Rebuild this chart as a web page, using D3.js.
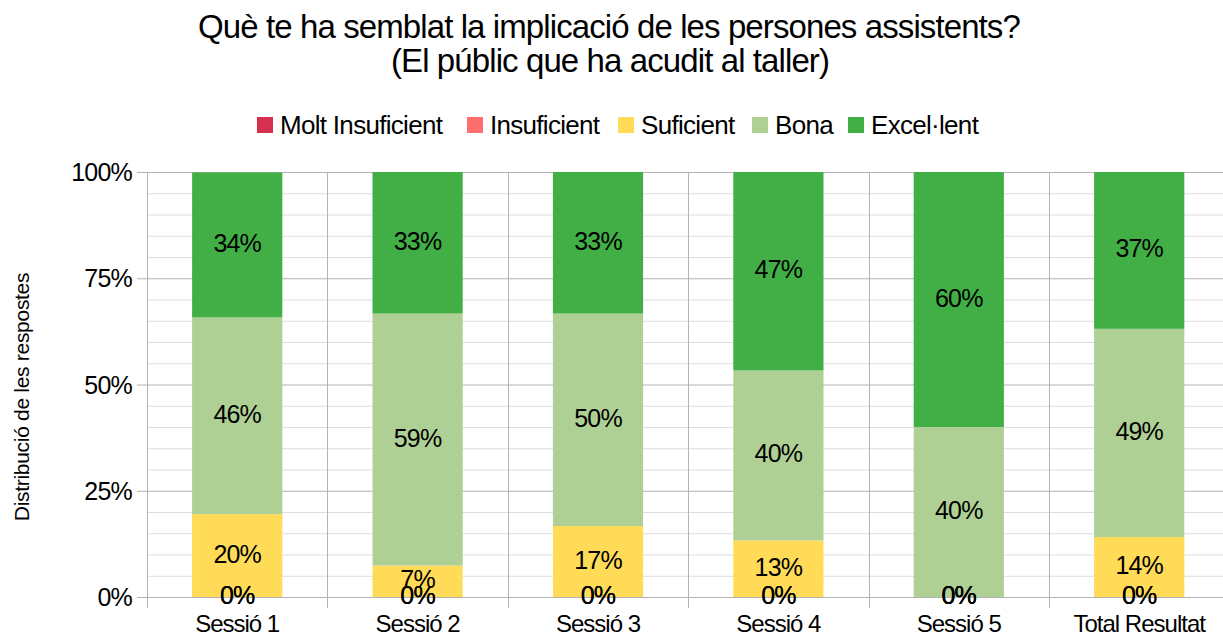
<!DOCTYPE html>
<html lang="ca">
<head>
<meta charset="utf-8">
<title>Implicació de les persones assistents</title>
<script src="https://d3js.org/d3.v7.min.js"></script>
<style>
  body { margin: 0; background: #fff; }
  svg text { font-family: "Liberation Sans", Arial, sans-serif; fill: #000; }
</style>
</head>
<body>
<div id="chart"></div>
<script>
// categories and series (percent of answers)
var sessions = ["Sessió 1", "Sessió 2", "Sessió 3", "Sessió 4", "Sessió 5", "Total Resultat"];
var levels = ["Molt Insuficient", "Insuficient", "Suficient", "Bona", "Excel·lent"];
var moltInsuficient = [0, 0, 0, 0, 0, 0];
var insuficient = [0, 0, 0, 0, 0, 0];
var suficient = [19.5, 7.4, 16.7, 13.3, 0, 14.1];
var bona = [46.3, 59.3, 50.0, 40.0, 40.0, 49.0];
var excellent = [34.1, 33.3, 33.3, 46.7, 60.0, 36.9];
var yTicks = [0, 25, 50, 75, 100];

var colors = ["#d6304f", "#ff6e6e", "#ffdb58", "#afd095", "#41ae46"];

var W = 1223, H = 637;
var margin = { left: 147, top: 172 };
var plotBottom = 597;
var band = 180.4;

var svg = d3.select("#chart").append("svg")
  .attr("width", W).attr("height", H);

// build rows for the stack
var series = [moltInsuficient, insuficient, suficient, bona, excellent];
var rows = sessions.map(function(s, i) {
  var r = { cat: s };
  levels.forEach(function(l, j) { r[l] = series[j][i]; });
  return r;
});

var x = d3.scaleBand().domain(sessions)
  .range([margin.left, margin.left + band * sessions.length])
  .padding(0);
var y = d3.scaleLinear().domain([0, 100]).range([plotBottom, margin.top]);

// minor grid
svg.append("g").selectAll("line")
  .data(d3.range(0, 101, 5).filter(function(v) { return v % 25 !== 0; }))
  .enter().append("line")
    .attr("x1", margin.left).attr("x2", W)
    .attr("y1", function(d) { return y(d) + 0.5; }).attr("y2", function(d) { return y(d) + 0.5; })
    .attr("stroke", "#dddddd").attr("stroke-width", 1);

// major grid
svg.append("g").selectAll("line")
  .data(yTicks)
  .enter().append("line")
    .attr("x1", margin.left - 10).attr("x2", W)
    .attr("y1", function(d) { return y(d) + 0.5; }).attr("y2", function(d) { return y(d) + 0.5; })
    .attr("stroke", "#b3b3b3").attr("stroke-width", 1);

// vertical category dividers
svg.append("g").selectAll("line")
  .data(sessions)
  .enter().append("line")
    .attr("x1", function(d) { return Math.round(x(d)) + 0.5; })
    .attr("x2", function(d) { return Math.round(x(d)) + 0.5; })
    .attr("y1", margin.top).attr("y2", plotBottom + 11)
    .attr("stroke", "#b3b3b3").attr("stroke-width", 1);

// y tick labels
svg.append("g").selectAll("text")
  .data(yTicks)
  .enter().append("text")
    .attr("x", 132)
    .attr("y", function(d) { return y(d); })
    .attr("text-anchor", "end")
    .attr("dominant-baseline", "central")
    .style("font-size", "25px")
    .style("letter-spacing", "-0.8px")
    .text(function(d) { return d + "%"; });

// stacked bars
var stack = d3.stack().keys(levels);
var stacked = stack(rows);
var bw = x.bandwidth() / 2;

var layers = svg.append("g").selectAll("g")
  .data(stacked)
  .enter().append("g")
    .attr("fill", function(d, i) { return colors[i]; });

layers.selectAll("rect")
  .data(function(d) { return d; })
  .enter().append("rect")
    .attr("x", function(d) { return x(d.data.cat) + bw / 2; })
    .attr("width", bw)
    .attr("y", function(d) { return y(d[1]); })
    .attr("height", function(d) { return y(d[0]) - y(d[1]); });

// data labels
var labels = svg.append("g");
stacked.forEach(function(layer) {
  labels.selectAll(null)
    .data(layer)
    .enter().append("text")
      .attr("x", function(d) { return x(d.data.cat) + x.bandwidth() / 2; })
      .attr("y", function(d) { return y((d[0] + d[1]) / 2) - 2; })
      .attr("text-anchor", "middle")
      .attr("dominant-baseline", "central")
      .style("font-size", "25px")
      .style("letter-spacing", "-0.8px")
      .text(function(d) { return Math.round(d[1] - d[0]) + "%"; });
});

// x labels
svg.append("g").selectAll("text")
  .data(sessions)
  .enter().append("text")
    .attr("x", function(d) { return x(d) + x.bandwidth() / 2; })
    .attr("y", 632)
    .attr("text-anchor", "middle")
    .style("font-size", "24px")
    .style("letter-spacing", "-1px")
    .text(function(d) { return d; });

// y axis title
svg.append("text")
  .attr("transform", "translate(29,397) rotate(-90)")
  .attr("text-anchor", "middle")
  .style("font-size", "21px")
  .style("letter-spacing", "-0.3px")
  .text("Distribució de les respostes");

// title
svg.append("text")
  .attr("x", 609).attr("y", 38)
  .attr("text-anchor", "middle")
  .style("font-size", "33px")
  .style("letter-spacing", "-0.9px")
  .text("Què te ha semblat la implicació de les persones assistents?");
svg.append("text")
  .attr("x", 610).attr("y", 72)
  .attr("text-anchor", "middle")
  .style("font-size", "33px")
  .style("letter-spacing", "-0.9px")
  .text("(El públic que ha acudit al taller)");

// legend
var legendX = [257, 467, 618, 752, 848];
var legend = svg.append("g").selectAll("g")
  .data(levels)
  .enter().append("g")
    .attr("transform", function(d, i) { return "translate(" + legendX[i] + ",125)"; });
legend.append("rect")
  .attr("x", 0).attr("y", -8).attr("width", 16).attr("height", 16)
  .attr("fill", function(d, i) { return colors[i]; });
legend.append("text")
  .attr("x", 23).attr("y", 0)
  .attr("dominant-baseline", "central")
  .style("font-size", "26px")
  .style("letter-spacing", "-0.7px")
  .text(function(d) { return d; });
</script>
</body>
</html>
